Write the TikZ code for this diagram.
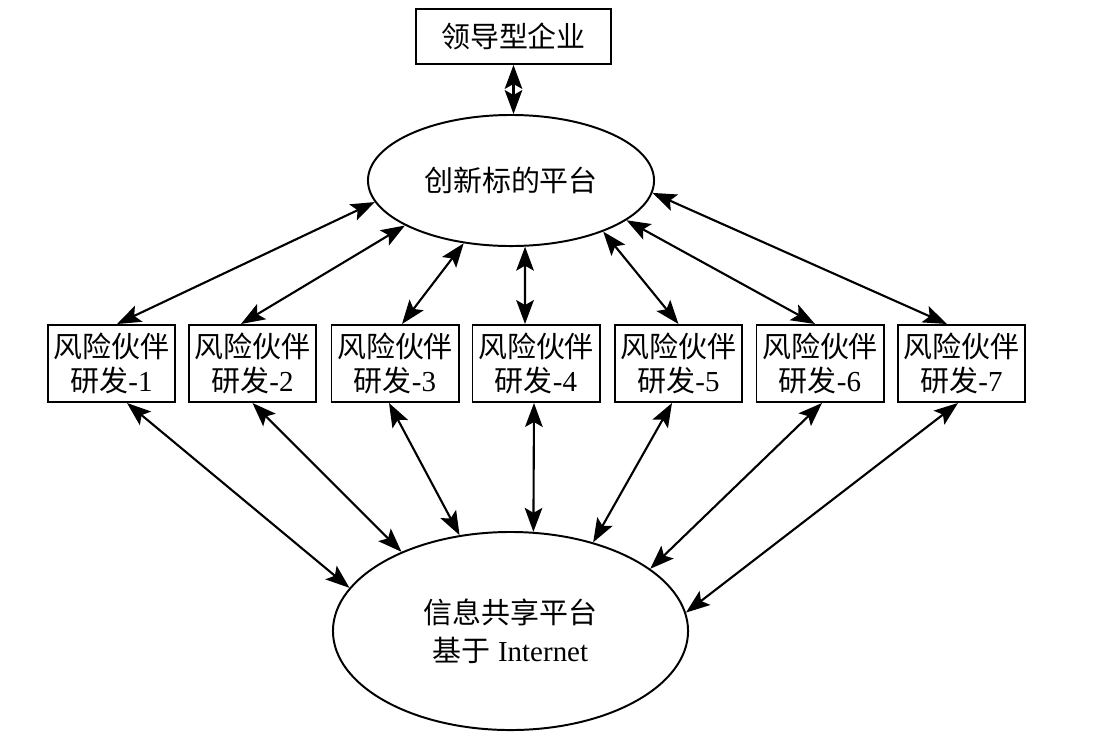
\documentclass[tikz,border=0pt]{standalone}
\usepackage{fontspec}
\setmainfont{Liberation Serif}
\newfontfamily\cjk{Noto Sans CJK SC}
\usetikzlibrary{shapes.geometric,arrows.meta,calc}

\tikzset{
    link/.style={arrows={Stealth[length=17pt,width=12.5pt,inset=3.5pt]-Stealth[length=17pt,width=12.5pt,inset=3.5pt]}, line width=1.5pt},
    leadbox/.style={draw, rectangle, line width=1.4pt, minimum width=4.875cm, minimum height=1.375cm, inner sep=0pt},
    riskbox/.style={draw, rectangle, line width=1.4pt, minimum width=3.175cm, minimum height=1.925cm, inner sep=0pt, align=center, font=\fontsize{20.6}{24}\selectfont},
    platform/.style={draw, ellipse, line width=1.4pt, inner sep=0pt, align=center}
}

\begin{document}
\begin{tikzpicture}[x=0.025cm, y=-0.025cm, font=\fontsize{20.6}{24}\selectfont]

    \useasboundingbox (0,0) rectangle (1103,752);

    % ==========================================
    % 1. Vertice: impresa leader e piattaforma
    % ==========================================
    \node[leadbox] (lead) at (513.5, 36.5) {\cjk 领导型企业};
    \node[platform, minimum width=7.15cm, minimum height=3.275cm] (innov) at (511, 180.5) {\cjk 创新标的平台};
    \draw[link] (lead.south) -- (lead.south |- innov.north);

    % ==========================================
    % 2. Partner di rischio
    % ==========================================
    \node[riskbox] (p1) at (111.5, 363.5) {{\cjk 风险伙伴}\\{\cjk 研发}-1};
    \node[riskbox] (p2) at (252.5, 363.5) {{\cjk 风险伙伴}\\{\cjk 研发}-2};
    \node[riskbox] (p3) at (395.0, 363.5) {{\cjk 风险伙伴}\\{\cjk 研发}-3};
    \node[riskbox] (p4) at (536.0, 363.5) {{\cjk 风险伙伴}\\{\cjk 研发}-4};
    \node[riskbox] (p5) at (678.5, 363.5) {{\cjk 风险伙伴}\\{\cjk 研发}-5};
    \node[riskbox] (p6) at (820.0, 363.5) {{\cjk 风险伙伴}\\{\cjk 研发}-6};
    \node[riskbox] (p7) at (961.5, 363.5) {{\cjk 风险伙伴}\\{\cjk 研发}-7};

    % ==========================================
    % 3. Piattaforma informativa (in basso)
    % ==========================================
    \node[platform, minimum width=8.875cm, minimum height=4.95cm, font=\fontsize{20.6}{27}\selectfont] (info) at (510.5, 631) {{\cjk 信息共享平台}\\{\cjk 基于} Internet};

    % Frecce partner -> piattaforma superiore
    \draw[link] ($(p1.north)+(5.5,0)$) -- (innov.189);
    \draw[link] ($(p2.north)+(-11.5,0)$) -- (innov.203);
    \draw[link] ($(p3.north)+(7,0)$) -- (innov.233);
    \draw[link] ($(p4.north)+(-11,0)$) -- (innov.282);
    \draw[link] (p5.north) -- (innov.331);
    \draw[link] ($(p6.north)+(-5,0)$) -- (innov.341);
    \draw[link] ($(p7.north)+(-14.5,0)$) -- (innov.355);

    % Frecce partner -> piattaforma inferiore
    \draw[link] ($(p1.south)+(15.5,0)$) -- (info.165);
    \draw[link] (p2.south) -- (info.144);
    \draw[link] ($(p3.south)+(-6,0)$) -- (info.118);
    \draw[link] ($(p4.south)+(-2,0)$) -- (info.77);
    \draw[link] ($(p5.south)+(-6.5,0)$) -- (info.47);
    \draw[link] ($(p6.south)+(2,0)$) -- (info.24);
    \draw[link] ($(p7.south)+(-3.5,0)$) -- (info.6);

\end{tikzpicture}
\end{document}
